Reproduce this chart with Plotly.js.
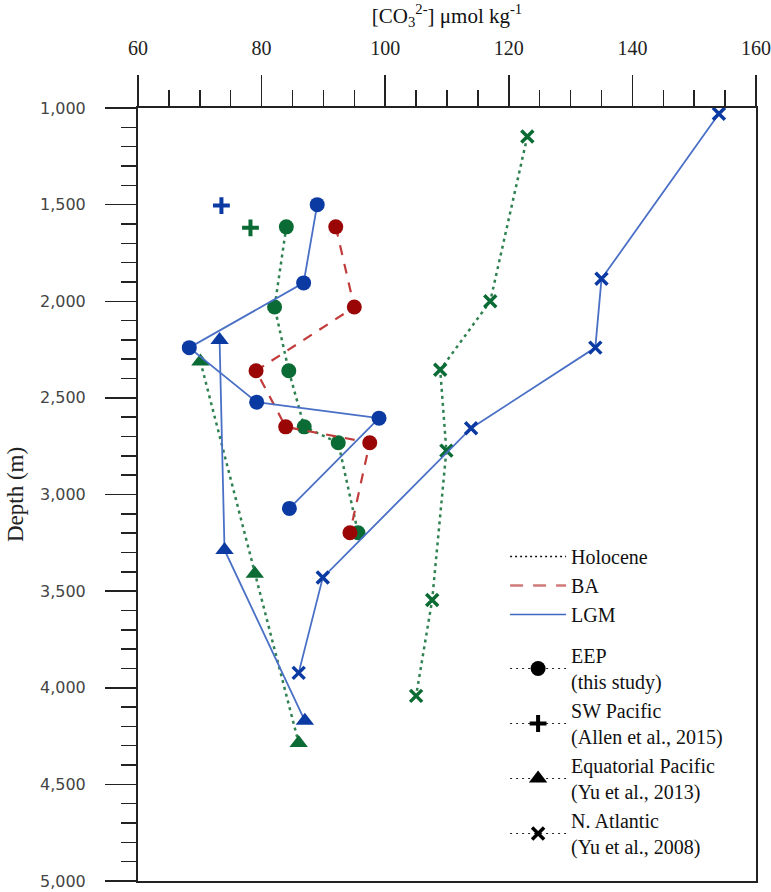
<!DOCTYPE html>
<html>
<head>
<meta charset="utf-8">
<script src="https://cdn.plot.ly/plotly-3.0.1.min.js"></script>
<style>
  html, body { margin: 0; padding: 0; background: #ffffff; }
  #chart { width: 771px; height: 892px; }
</style>
</head>
<body>
<div id="chart"></div>
<script>
// Carbonate ion concentration ([CO3 2-], umol/kg) against water depth (m)

// EEP cores (this study)
const eepHoloCO3   = [84.0, 82.1, 84.4, 86.9, 92.4, 95.6];
const eepHoloDepth = [1615, 2030, 2360, 2650, 2732, 3198];
const eepBaCO3     = [92.0, 95.0, 79.1, 83.9, 97.5, 94.3];
const eepBaDepth   = [1615, 2030, 2360, 2650, 2732, 3198];
const eepLgmCO3    = [89.0, 86.8, 68.3, 79.2, 99.0, 84.5];
const eepLgmDepth  = [1500, 1905, 2240, 2522, 2605, 3072];

// SW Pacific (Allen et al., 2015)
const swpHoloCO3   = [78.2];
const swpHoloDepth = [1620];
const swpLgmCO3    = [73.5];
const swpLgmDepth  = [1505];

// Equatorial Pacific (Yu et al., 2013)
const eqpHoloCO3   = [70.1, 78.9, 86.0];
const eqpHoloDepth = [2312, 3410, 4286];
const eqpLgmCO3    = [73.2, 74.0, 87.0];
const eqpLgmDepth  = [2200, 3287, 4171];

// N. Atlantic (Yu et al., 2008)
const natHoloCO3   = [123.0, 117.0, 108.9, 109.9, 107.6, 105.0];
const natHoloDepth = [1147, 2000, 2355, 2773, 3546, 4042];
const natLgmCO3    = [154.0, 135.0, 134.0, 113.9, 89.9, 86.0];
const natLgmDepth  = [1030, 1884, 2240, 2657, 3430, 3923];

// Legend labels
const periodNames = ['Holocene', 'BA', 'LGM'];
const siteNames = [
  'EEP<br>(this study)',
  'SW Pacific<br>(Allen et al., 2015)',
  'Equatorial Pacific<br>(Yu et al., 2013)',
  'N. Atlantic<br>(Yu et al., 2008)'
];

// Styles per time slice and per site
const periodStyle = {
  Holocene: { marker: '#0b6b34', line: '#2f8150', dash: '3px,4px', width: 2.5 },
  BA:       { marker: '#9a0606', line: '#c23b3b', dash: '10px,9px', width: 2.2 },
  LGM:      { marker: '#0b3aa3', line: '#4a70c6', dash: 'solid',   width: 1.8 }
};
const siteSymbol = {
  eep: { symbol: 'circle', size: 15, lw: 0 },
  swp: { symbol: 'cross-thin-open', size: 12, lw: 4 },
  eqp: { symbol: 'triangle-up', size: 16, lw: 0 },
  nat: { symbol: 'x-thin-open', size: 12, lw: 3.5 }
};

function series(x, y, period, site) {
  const p = periodStyle[period];
  const s = siteSymbol[site];
  const marker = { symbol: s.symbol, size: s.size, color: p.marker };
  if (s.lw > 0) marker.line = { color: p.marker, width: s.lw };
  else marker.line = { width: 0 };
  return {
    type: 'scatter', mode: 'lines+markers', x: x, y: y,
    line: { color: p.line, dash: p.dash, width: p.width },
    marker: marker, showlegend: false, hoverinfo: 'x+y', cliponaxis: false
  };
}

const data = [
  // Holocene first, then BA, then LGM on top
  series(natHoloCO3, natHoloDepth, 'Holocene', 'nat'),
  series(eqpHoloCO3, eqpHoloDepth, 'Holocene', 'eqp'),
  series(eepHoloCO3, eepHoloDepth, 'Holocene', 'eep'),
  series(swpHoloCO3, swpHoloDepth, 'Holocene', 'swp'),
  series(eepBaCO3, eepBaDepth, 'BA', 'eep'),
  series(natLgmCO3, natLgmDepth, 'LGM', 'nat'),
  series(eqpLgmCO3, eqpLgmDepth, 'LGM', 'eqp'),
  series(eepLgmCO3, eepLgmDepth, 'LGM', 'eep'),
  series(swpLgmCO3, swpLgmDepth, 'LGM', 'swp')
];

// Legend entries: line style keys for the time slices
const legendLines = [
  { color: '#111111', dash: '2px,3px', width: 1.3 },
  { color: '#d07a7a', dash: '13px,10px', width: 2.5 },
  { color: '#3f66c0', dash: 'solid', width: 1.5 }
];
periodNames.forEach(function (name, i) {
  data.push({
    type: 'scatter', mode: 'lines', x: [null], y: [null], name: name,
    line: legendLines[i], legendgroup: 'periods', hoverinfo: 'skip'
  });
});
// Legend entries: marker keys for the sites
const siteKeys = ['eep', 'swp', 'eqp', 'nat'];
siteNames.forEach(function (name, i) {
  const s = siteSymbol[siteKeys[i]];
  const marker = { symbol: s.symbol, size: s.size, color: '#000000' };
  marker.line = s.lw > 0 ? { color: '#000000', width: s.lw } : { width: 0 };
  data.push({
    type: 'scatter', mode: 'lines+markers', x: [null], y: [null], name: name,
    line: { color: '#222222', dash: '2px,4px', width: 1.2 },
    marker: marker, legendgroup: 'sites', hoverinfo: 'skip'
  });
});

const serif = 'Liberation Serif, Times New Roman, serif';
const sans = 'DejaVu Sans, Verdana, sans-serif';
const axisColor = '#222222';

const layout = {
  width: 771, height: 892,
  margin: { l: 137.7, r: 15, t: 108.3, b: 11.3, pad: 0 },
  paper_bgcolor: '#ffffff', plot_bgcolor: '#ffffff',
  font: { family: serif, size: 19, color: '#111111' },
  showlegend: true,
  legend: {
    x: 0.594, xanchor: 'left', y: 0.445, yanchor: 'top',
    bgcolor: 'rgba(0,0,0,0)', borderwidth: 0,
    font: { family: serif, size: 20, color: '#111111' },
    itemwidth: 56, tracegroupgap: 12, traceorder: 'grouped', valign: 'middle'
  },
  xaxis: {
    side: 'top', range: [60, 160], tick0: 60, dtick: 20,
    ticks: 'outside', ticklen: 31, tickwidth: 1.5, tickcolor: axisColor,
    showline: true, linecolor: axisColor, linewidth: 2, mirror: true,
    showgrid: false, zeroline: false, fixedrange: true,
    tickfont: { family: serif, size: 20, color: '#222222' },
    ticklabelstandoff: 12,
    minor: { dtick: 5, ticks: 'outside', ticklen: 16, tickwidth: 1.5, tickcolor: axisColor, showgrid: false },
    title: {
      text: '[CO<sub>3</sub><sup>2-</sup>] \u03bcmol kg<sup>-1</sup>',
      font: { family: serif, size: 21, color: '#111111' }, standoff: 8
    }
  },
  yaxis: {
    range: [5000, 1000], tick0: 1000, dtick: 500, tickformat: ',d',
    ticks: 'outside', ticklen: 31, tickwidth: 1.5, tickcolor: axisColor,
    showline: true, linecolor: axisColor, linewidth: 2, mirror: true,
    showgrid: false, zeroline: false, fixedrange: true,
    tickfont: { family: sans, size: 16, color: '#444444' },
    ticklabelstandoff: 16,
    minor: { dtick: 100, ticks: 'outside', ticklen: 15, tickwidth: 1.5, tickcolor: axisColor, showgrid: false },
    title: {
      text: 'Depth (m)',
      font: { family: serif, size: 23, color: '#222222' }, standoff: 10
    }
  }
};

Plotly.newPlot('chart', data, layout, { displayModeBar: false, staticPlot: true });
</script>
</body>
</html>
